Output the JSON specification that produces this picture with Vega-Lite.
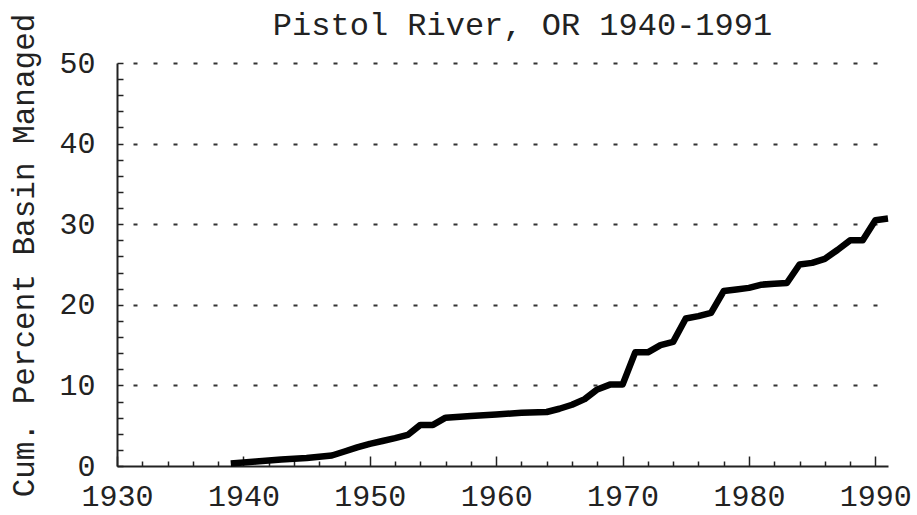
{
  "$schema": "https://vega.github.io/schema/vega-lite/v6.json",
  "width": 771,
  "height": 403,
  "autosize": "none",
  "padding": {"left": 117, "top": 63, "right": 29, "bottom": 49},
  "background": "white",
  "title": {
    "text": "Pistol River, OR 1940-1991",
    "font": "Liberation Mono",
    "fontSize": 32,
    "fontWeight": "normal",
    "color": "#222222",
    "anchor": "middle",
    "frame": "group",
    "baseline": "alphabetic",
    "offset": -54,
    "dx": 20
  },
  "data": {
    "values": [
      {"year": 1939, "pct": 0.3},
      {"year": 1941, "pct": 0.55},
      {"year": 1943, "pct": 0.8},
      {"year": 1945, "pct": 1.0},
      {"year": 1947, "pct": 1.3},
      {"year": 1948, "pct": 1.8},
      {"year": 1949, "pct": 2.3},
      {"year": 1950, "pct": 2.75},
      {"year": 1951, "pct": 3.1},
      {"year": 1952, "pct": 3.45},
      {"year": 1953, "pct": 3.85},
      {"year": 1954, "pct": 5.1},
      {"year": 1955, "pct": 5.1},
      {"year": 1956, "pct": 6.0},
      {"year": 1958, "pct": 6.2},
      {"year": 1960, "pct": 6.4},
      {"year": 1962, "pct": 6.6},
      {"year": 1964, "pct": 6.7},
      {"year": 1965, "pct": 7.1},
      {"year": 1966, "pct": 7.6},
      {"year": 1967, "pct": 8.3},
      {"year": 1968, "pct": 9.5},
      {"year": 1969, "pct": 10.1},
      {"year": 1970, "pct": 10.1},
      {"year": 1971, "pct": 14.1},
      {"year": 1972, "pct": 14.1},
      {"year": 1973, "pct": 15.0},
      {"year": 1974, "pct": 15.4},
      {"year": 1975, "pct": 18.3},
      {"year": 1976, "pct": 18.6},
      {"year": 1977, "pct": 19.0},
      {"year": 1978, "pct": 21.7},
      {"year": 1979, "pct": 21.9},
      {"year": 1980, "pct": 22.1},
      {"year": 1981, "pct": 22.5},
      {"year": 1982, "pct": 22.6},
      {"year": 1983, "pct": 22.7},
      {"year": 1984, "pct": 25.0},
      {"year": 1985, "pct": 25.2},
      {"year": 1986, "pct": 25.7},
      {"year": 1987, "pct": 26.8},
      {"year": 1988, "pct": 28.0},
      {"year": 1989, "pct": 28.0},
      {"year": 1990, "pct": 30.5},
      {"year": 1991, "pct": 30.7}
    ]
  },
  "mark": {"type": "line", "color": "#000000", "strokeWidth": 6.5, "strokeJoin": "round", "strokeCap": "butt"},
  "encoding": {
    "x": {
      "field": "year",
      "type": "quantitative",
      "scale": {"domain": [1930, 1991], "nice": false, "zero": false},
      "axis": {
        "title": null,
        "values": [1930,1932,1934,1936,1938,1940,1942,1944,1946,1948,1950,1952,1954,1956,1958,1960,1962,1964,1966,1968,1970,1972,1974,1976,1978,1980,1982,1984,1986,1988,1990],
        "format": "d",
        "labelExpr": "datum.value % 10 === 0 ? datum.label : ''",
        "grid": false,
        "tickSize": {"condition": {"test": "datum.value % 10 === 0", "value": -10}, "value": -5},
        "labelPadding": 49,
        "labelBaseline": "alphabetic",
        "labelFlush": false,
        "labelOverlap": false
      }
    },
    "y": {
      "field": "pct",
      "type": "quantitative",
      "scale": {"domain": [0, 50], "nice": false},
      "axis": {
        "title": "Cum. Percent Basin Managed",
        "values": [0,2,4,6,8,10,12,14,16,18,20,22,24,26,28,30,32,34,36,38,40,42,44,46,48,50],
        "format": "d",
        "labelExpr": "datum.value % 10 === 0 ? datum.label : ''",
        "tickSize": -6,
        "labelPadding": 28,
        "labelBaseline": "middle",
        "labelFlush": false,
        "labelOverlap": false,
        "grid": true,
        "gridOpacity": {"condition": {"test": "datum.value % 10 === 0 && datum.value > 0", "value": 1}, "value": 0},
        "gridDash": [4, 16],
        "gridDashOffset": 4,
        "gridColor": "#333333",
        "gridWidth": 2,
        "titleAngle": 270,
        "titleX": -84,
        "titleY": 192,
        "titleAlign": "center",
        "titleBaseline": "alphabetic"
      }
    }
  },
  "config": {
    "view": {"stroke": null},
    "axis": {
      "labelFont": "Liberation Mono",
      "labelFontSize": 30,
      "labelColor": "#222222",
      "titleFont": "Liberation Mono",
      "titleFontSize": 31,
      "titleFontWeight": "normal",
      "titleColor": "#222222",
      "domainColor": "#222222",
      "domainWidth": 2,
      "tickColor": "#222222",
      "tickWidth": 1.5
    }
  }
}
